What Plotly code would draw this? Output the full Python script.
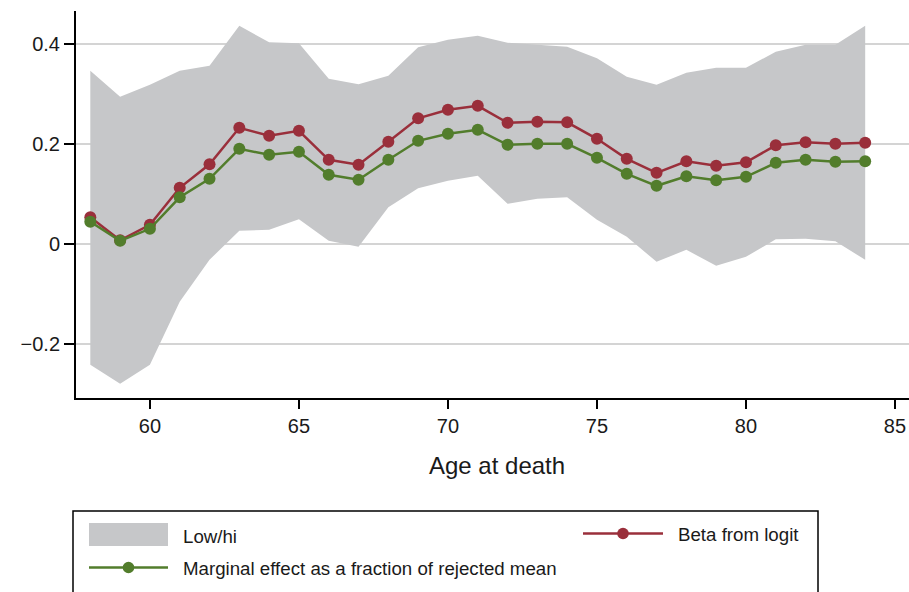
import plotly.graph_objects as go

# Age at death (x) and estimates by age
ages = list(range(58, 85))
beta_logit = [0.054, 0.008, 0.039, 0.113, 0.160, 0.233, 0.217, 0.227, 0.169,
              0.159, 0.205, 0.252, 0.269, 0.277, 0.243, 0.245, 0.244, 0.211,
              0.171, 0.143, 0.166, 0.157, 0.164, 0.198, 0.204, 0.201, 0.203]
marginal_effect = [0.045, 0.007, 0.031, 0.094, 0.131, 0.191, 0.179, 0.185, 0.139,
                   0.129, 0.169, 0.207, 0.221, 0.229, 0.199, 0.201, 0.201, 0.173,
                   0.141, 0.117, 0.136, 0.128, 0.135, 0.163, 0.169, 0.165, 0.166]
band_low = [-0.241, -0.279, -0.241, -0.115, -0.031, 0.027, 0.029, 0.050, 0.007,
            -0.005, 0.074, 0.112, 0.127, 0.137, 0.081, 0.091, 0.094, 0.049,
            0.015, -0.035, -0.011, -0.043, -0.025, 0.010, 0.011, 0.006, -0.031]
band_high = [0.347, 0.295, 0.319, 0.347, 0.357, 0.437, 0.404, 0.402, 0.331,
             0.320, 0.337, 0.394, 0.409, 0.417, 0.403, 0.399, 0.395, 0.372,
             0.335, 0.319, 0.343, 0.353, 0.353, 0.385, 0.399, 0.399, 0.437]

x_ticks = [60, 65, 70, 75, 80, 85]
y_ticks = [-0.2, 0, 0.2, 0.4]
y_tick_labels = ["\u22120.2", "0", "0.2", "0.4"]

legend_labels = ["Low/hi", "Beta from logit", "Marginal effect as a fraction of rejected mean"]

BAND = "#c6c7c9"
RED = "#9a2f3b"
GREEN = "#527d2c"
FONT = "Liberation Sans, Arial, sans-serif"

W, H = 909, 592
ML, MR, MT, MB = 76, 0, 11, 194
PW, PH = W - ML - MR, H - MT - MB


def px(x):
    return (x - ML) / PW


def py(y):
    return (H - MB - y) / PH


fig = go.Figure()

fig.add_trace(go.Scatter(x=ages, y=band_low, mode="lines", line=dict(width=0, color=BAND),
                         showlegend=False, hoverinfo="skip"))
fig.add_trace(go.Scatter(x=ages, y=band_high, mode="lines", line=dict(width=0, color=BAND),
                         fill="tonexty", fillcolor=BAND, name=legend_labels[0], showlegend=False))
fig.add_trace(go.Scatter(x=ages, y=beta_logit, mode="lines+markers", name=legend_labels[1],
                         line=dict(color=RED, width=2.5), marker=dict(color=RED, size=12),
                         showlegend=False))
fig.add_trace(go.Scatter(x=ages, y=marginal_effect, mode="lines+markers", name=legend_labels[2],
                         line=dict(color=GREEN, width=2.5), marker=dict(color=GREEN, size=12),
                         showlegend=False))

shapes = []
annotations = []

# Legend box (open at the bottom edge of the canvas)
shapes.append(dict(type="rect", xref="paper", yref="paper",
                   x0=px(73), x1=px(818), y0=py(640), y1=py(511),
                   line=dict(color="black", width=1.5), fillcolor="white", layer="above"))
# Band swatch
shapes.append(dict(type="rect", xref="paper", yref="paper",
                   x0=px(89), x1=px(168), y0=py(546), y1=py(523),
                   line=dict(width=0), fillcolor=BAND, layer="above"))


def line_key(x0, x1, y, color):
    shapes.append(dict(type="line", xref="paper", yref="paper",
                       x0=px(x0), x1=px(x1), y0=py(y), y1=py(y),
                       line=dict(color=color, width=2.5), layer="above"))
    cx, r = (x0 + x1) / 2, 5.8
    shapes.append(dict(type="circle", xref="paper", yref="paper",
                       x0=px(cx - r), x1=px(cx + r), y0=py(y + r), y1=py(y - r),
                       line=dict(width=0), fillcolor=color, layer="above"))


line_key(583, 663, 533.5, RED)
line_key(89, 168, 567.5, GREEN)

for text, x, y in [(legend_labels[0], 181, 536.5),
                   (legend_labels[1], 676, 534.5),
                   (legend_labels[2], 181, 568.5)]:
    annotations.append(dict(text=text, xref="paper", yref="paper", x=px(x), y=py(y),
                            xanchor="left", yanchor="middle", showarrow=False,
                            font=dict(family=FONT, size=18.7, color="#1a1a1a")))

annotations.append(dict(text="Age at death", xref="paper", yref="paper", x=px(497), y=py(465),
                        xanchor="center", yanchor="middle", showarrow=False,
                        font=dict(family=FONT, size=24, color="#1a1a1a")))

fig.update_layout(
    width=W, height=H,
    margin=dict(l=ML, r=MR, t=MT, b=MB, pad=0),
    paper_bgcolor="white", plot_bgcolor="white",
    font=dict(family=FONT, color="#1a1a1a"),
    showlegend=False,
    shapes=shapes, annotations=annotations,
)
fig.update_xaxes(range=[57.52, 85.47], tickvals=x_ticks, ticks="outside", ticklen=9,
                 tickwidth=1.5, tickcolor="black", showline=True, linecolor="black",
                 linewidth=2, showgrid=False, zeroline=False,
                 tickfont=dict(family=FONT, size=20, color="#1a1a1a"))
fig.update_yaxes(range=[-0.3074, 0.4666], tickvals=y_ticks, ticktext=y_tick_labels,
                 ticks="outside", ticklen=10, tickwidth=1.5, tickcolor="black",
                 showline=True, linecolor="black", linewidth=2, showgrid=True,
                 gridcolor="#d4d4d4", gridwidth=2, zeroline=False,
                 tickfont=dict(family=FONT, size=20, color="#1a1a1a"))

fig.write_html("out.html")
